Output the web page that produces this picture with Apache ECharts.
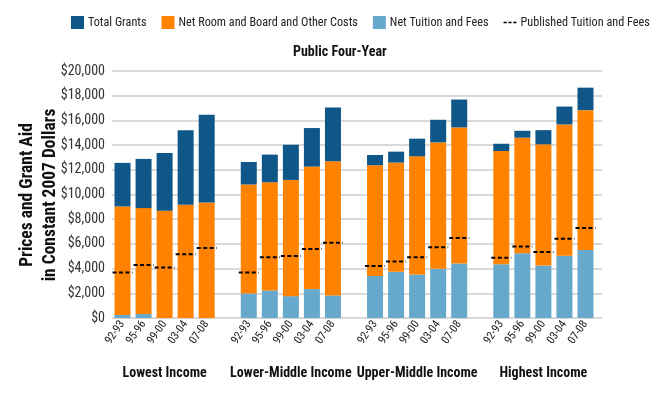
<!DOCTYPE html>
<html>
<head>
<meta charset="utf-8">
<script src="https://cdn.jsdelivr.net/npm/echarts@6/dist/echarts.min.js"></script>
<style>
html,body{margin:0;padding:0;background:#fff;}
#c{width:664px;height:394px;}
</style>
</head>
<body>
<div id="c"></div>
<script>
// ---- data ----
const years = ['92-93', '95-96', '99-00', '03-04', '07-08'];
const groups = ['Lowest Income', 'Lower-Middle Income', 'Upper-Middle Income', 'Highest Income'];

// Net Tuition and Fees (by group, by year)
const netTuitionLowest = [250, 330, 0, 0, 0];
const netTuitionLowerMiddle = [1990, 2230, 1770, 2340, 1830];
const netTuitionUpperMiddle = [3410, 3740, 3520, 3980, 4410];
const netTuitionHighest = [4350, 5240, 4250, 5050, 5510];

// Net Room and Board and Other Costs
const roomBoardLowest = [8780, 8570, 8680, 9170, 9350];
const roomBoardLowerMiddle = [8820, 8760, 9410, 9920, 10860];
const roomBoardUpperMiddle = [8960, 8840, 9570, 10240, 11020];
const roomBoardHighest = [9170, 9360, 9810, 10620, 11320];

// Total Grants
const grantsLowest = [3530, 3980, 4680, 6040, 7100];
const grantsLowerMiddle = [1820, 2240, 2850, 3120, 4350];
const grantsUpperMiddle = [830, 890, 1430, 1830, 2260];
const grantsHighest = [590, 560, 1150, 1450, 1820];

// Published Tuition and Fees
const publishedLowest = [3690, 4300, 4090, 5160, 5670];
const publishedLowerMiddle = [3680, 4920, 5030, 5590, 6100];
const publishedUpperMiddle = [4220, 4570, 4920, 5730, 6480];
const publishedHighest = [4870, 5780, 5350, 6420, 7280];

const yTicks = [0, 2000, 4000, 6000, 8000, 10000, 12000, 14000, 16000, 18000, 20000];

// ---- build flattened category layout (gap slot between groups) ----
function flatten(arrs) {
  const out = [];
  arrs.forEach((a, gi) => {
    a.forEach(v => out.push(v));
    if (gi < arrs.length - 1) out.push(null);
  });
  return out;
}
const cats = [];
const groupCats = [];
groups.forEach((g, gi) => {
  years.forEach((y, yi) => { cats.push(y); groupCats.push(yi === 2 ? g : ''); });
  if (gi < groups.length - 1) { cats.push(''); groupCats.push(''); }
});
const tuitionData = flatten([netTuitionLowest, netTuitionLowerMiddle, netTuitionUpperMiddle, netTuitionHighest]);
const roomData = flatten([roomBoardLowest, roomBoardLowerMiddle, roomBoardUpperMiddle, roomBoardHighest]);
const grantData = flatten([grantsLowest, grantsLowerMiddle, grantsUpperMiddle, grantsHighest]);
const pubFlat = flatten([publishedLowest, publishedLowerMiddle, publishedUpperMiddle, publishedHighest]);
const pubData = [];
pubFlat.forEach((v, i) => { if (v !== null) pubData.push([i, v]); });

const FONT = "'Roboto Condensed', 'Liberation Sans', sans-serif";
const C_GRANT = '#0f5788';
const C_ROOM = '#ff8200';
const C_TUIT = '#67a9cd';

const chart = echarts.init(document.getElementById('c'), null, {renderer: 'canvas'});
chart.setOption({
  animation: false,
  backgroundColor: '#fff',
  textStyle: {fontFamily: FONT},
  title: {
    text: 'Public Four-Year',
    left: 288, top: 40,
    textStyle: {fontFamily: FONT, fontSize: 14, fontWeight: 'bold', color: '#111'}
  },
  legend: {
    left: 66, top: 11, width: 598,
    itemWidth: 13, itemHeight: 13, itemGap: 15,
    textStyle: {fontFamily: FONT, fontSize: 12.2, color: '#222', padding: [0, 0, 0, -1]},
    data: [
      {name: 'Total Grants', icon: 'rect'},
      {name: 'Net Room and Board and Other Costs', icon: 'rect'},
      {name: 'Net Tuition and Fees', icon: 'rect'},
      {name: 'Published Tuition and Fees', icon: 'path://M0,0M0,6h4v2h-4zM6,6h4v2h-4zM12,6h4v2h-4zM16,14', itemStyle: {color: '#000'}}
    ]
  },
  graphic: [{
    type: 'text', x: 39.5, y: 195, rotation: Math.PI / 2,
    style: {
      text: 'Prices and Grant Aid\nin Constant 2007 Dollars',
      align: 'center', verticalAlign: 'middle', lineHeight: 23,
      fontFamily: FONT, fontSize: 17.5, fontWeight: 'bold', fill: '#111'
    }
  }],
  grid: [
    {left: 112, right: 62, top: 71, bottom: 76},
    {left: 112, right: 68, top: 71, bottom: 76}
  ],
  xAxis: [
    {gridIndex: 0, type: 'category', data: ['a'], show: false},
    {
      gridIndex: 1, type: 'category', data: cats,
      axisLine: {show: false}, axisTick: {show: false},
      axisLabel: {interval: 0, rotate: 55, fontSize: 11.5, color: '#222', margin: 4, fontFamily: FONT}
    },
    {
      gridIndex: 1, type: 'category', data: groupCats, position: 'bottom', offset: 40,
      axisLine: {show: false}, axisTick: {show: false},
      axisLabel: {interval: 0, fontSize: 14, fontWeight: 'bold', color: '#111', margin: 8, fontFamily: FONT}
    }
  ],
  yAxis: [
    {
      gridIndex: 0, type: 'value', min: 0, max: 20000, interval: 2000,
      axisLine: {show: false}, axisTick: {show: false},
      splitLine: {lineStyle: {color: '#cccccc', width: 1.5}},
      axisLabel: {
        margin: 7, fontSize: 14, color: '#333', fontFamily: FONT,
        formatter: v => yTicks.indexOf(v) >= 0 ? '$' + v.toLocaleString('en-US') : ''
      }
    },
    {gridIndex: 1, type: 'value', min: 0, max: 20000, interval: 2000, show: false, splitLine: {show: false}}
  ],
  series: [
    {name: 'Net Tuition and Fees', type: 'bar', stack: 's', xAxisIndex: 1, yAxisIndex: 1,
     barWidth: 16, itemStyle: {color: C_TUIT}, data: tuitionData},
    {name: 'Net Room and Board and Other Costs', type: 'bar', stack: 's', xAxisIndex: 1, yAxisIndex: 1,
     barWidth: 16, itemStyle: {color: C_ROOM}, data: roomData},
    {name: 'Total Grants', type: 'bar', stack: 's', xAxisIndex: 1, yAxisIndex: 1,
     barWidth: 16, itemStyle: {color: C_GRANT}, data: grantData},
    {
      name: 'Published Tuition and Fees', type: 'custom', xAxisIndex: 1, yAxisIndex: 1,
      itemStyle: {color: '#000'}, z: 10,
      renderItem: (params, api) => {
        const p = api.coord([api.value(0), api.value(1)]);
        return {
          type: 'line',
          shape: {x1: p[0] - 10, y1: p[1], x2: p[0] + 10, y2: p[1]},
          style: {stroke: '#000', lineWidth: 2, lineDash: [4, 2.5]}
        };
      },
      data: pubData
    }
  ]
});
</script>
</body>
</html>
